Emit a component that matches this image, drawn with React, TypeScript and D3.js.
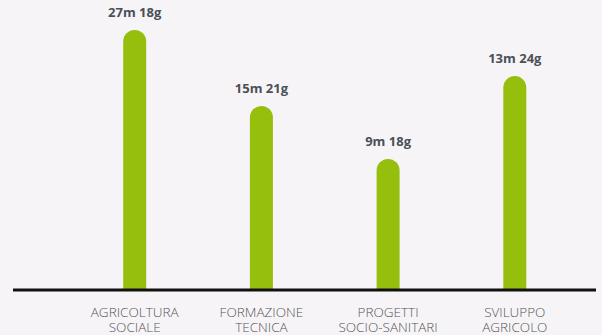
import React from "react";
import * as d3 from "d3";

const categories: string[][] = [
  ["AGRICOLTURA", "SOCIALE"],
  ["FORMAZIONE", "TECNICA"],
  ["PROGETTI", "SOCIO-SANITARI"],
  ["SVILUPPO", "AGRICOLO"],
];
const valueLabels: string[] = ["27m 18g", "15m 21g", "9m 18g", "13m 24g"];
// bar heights (relative units, tallest = 100)
const barValues: number[] = [100, 70.7, 50.2, 82.2];

const W = 602;
const H = 335;
const BASE = 289;

export default function App() {
  const keys = categories.map((c) => c.join(" "));
  const x = d3.scalePoint<string>().domain(keys).range([134.7, 514.8]);
  const y = d3.scaleLinear().domain([0, 100]).range([BASE, 30]);
  const bw = 23;
  const r = bw / 2;

  const barPath = (cx: number, top: number) => {
    const p = d3.path();
    p.moveTo(cx - r, BASE);
    p.lineTo(cx - r, top + r);
    p.arc(cx, top + r, r, Math.PI, 0);
    p.lineTo(cx + r, BASE);
    p.closePath();
    return p.toString();
  };

  return (
    <div style={{ position: "fixed", left: 0, top: 0, width: W, height: H, background: "#f7f4f8" }}>
      <svg width={W} height={H} style={{ display: "block" }}>
        <rect width={W} height={H} fill="#f7f4f8" />
        {keys.map((k, i) => {
          const cx = x(k)!;
          const top = y(barValues[i]);
          return (
            <g key={k}>
              <path d={barPath(cx, top)} fill="#95be0d" />
              <text
                x={cx}
                y={top - 13}
                textAnchor="middle"
                fontFamily="'Open Sans', sans-serif"
                fontWeight={700}
                fontSize={13}
                fill="#4a5056"
              >
                {valueLabels[i]}
              </text>
              <text
                x={cx}
                y={317}
                textAnchor="middle"
                fontFamily="'Open Sans', sans-serif"
                fontWeight={300}
                fontSize={13.5}
                fill="#555"
              >
                {categories[i].map((line, j) => (
                  <tspan key={j} x={cx} dy={j === 0 ? 0 : 14.5}>
                    {line}
                  </tspan>
                ))}
              </text>
            </g>
          );
        })}
        <line x1={13} x2={596} y1={290} y2={290} stroke="#111" strokeWidth={3} />
      </svg>
    </div>
  );
}
